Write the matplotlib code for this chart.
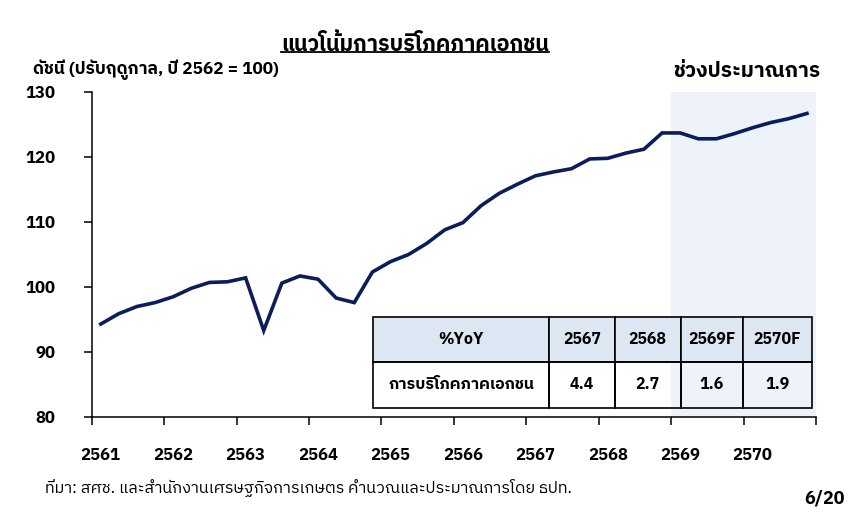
import matplotlib
matplotlib.use("Agg")
import matplotlib.pyplot as plt
from matplotlib.lines import Line2D
from matplotlib.transforms import ScaledTranslation

plt.rcParams["font.family"] = ["IBM Plex Sans Thai", "DejaVu Sans"]

# quarterly index, 2561Q1 .. 2570Q4 (2569-2570 forecast)
years = list(range(2561, 2571))
index_values = [
    94.3, 95.9, 97.0, 97.6,
    98.5, 99.8, 100.7, 100.8,
    101.4, 93.3, 100.6, 101.7,
    101.2, 98.3, 97.6, 102.3,
    103.9, 105.0, 106.7, 108.8,
    109.9, 112.5, 114.4, 115.8,
    117.1, 117.7, 118.2, 119.7,
    119.8, 120.6, 121.2, 123.7,
    123.7, 122.8, 122.8, 123.6,
    124.5, 125.3, 125.9, 126.7,
]
quarter_x = [y + (q + 0.5) / 4 for y in years for q in range(4)]
forecast_start = 2569

table_header = ["%YoY", "2567", "2568", "2569F", "2570F"]
table_row = ["การบริโภคภาคเอกชน", "4.4", "2.7", "1.6", "1.9"]

fig = plt.figure(figsize=(8.5, 5.18), dpi=100)
ax = fig.add_axes([0.1079, 0.195, 0.8521, 0.6274])

ax.axvspan(forecast_start, years[-1] + 1, color="#eef2fa", zorder=0, lw=0)
ax.plot(quarter_x, index_values, color="#0b1d5a", lw=2.6, zorder=3,
        solid_joinstyle="miter")

ax.set_xlim(years[0], years[-1] + 1)
ax.set_ylim(80, 130)
ax.set_yticks(range(80, 131, 10))
ax.set_xticks(years + [years[-1] + 1])
ax.set_xticklabels([str(y) for y in years] + [""])
for s in ["top", "right"]:
    ax.spines[s].set_visible(False)
for s in ["left", "bottom"]:
    ax.spines[s].set_linewidth(1.1)
ax.tick_params(axis="both", direction="out", length=6, width=1.1,
               labelsize=12)
ax.tick_params(axis="y", pad=20)
ax.tick_params(axis="x", pad=16)
for lab in ax.get_xticklabels() + ax.get_yticklabels():
    lab.set_fontweight("bold")

# year labels sit a little right of their tick
shift = ScaledTranslation(9 / 100, 0, fig.dpi_scale_trans)
for lab in ax.get_xticklabels():
    lab.set_transform(lab.get_transform() + shift)

# YoY table
widths = [176, 65.7, 65.7, 62.6, 68.4]
tot = sum(widths)
tbl = ax.table(cellText=[table_header, table_row],
               colWidths=[w / tot for w in widths],
               cellLoc="center",
               bbox=[0.3888, 0.0292, 0.6052, 0.2776], zorder=5)
tbl.auto_set_font_size(False)
for (r, c), cell in tbl.get_celld().items():
    cell.set_linewidth(1.2)
    cell.set_edgecolor("black")
    cell.set_facecolor("#dde7f3" if r == 0 else "none")
    cell.get_text().set_fontsize(11.5)
    cell.get_text().set_fontweight("bold")

title = fig.text(0.488, 0.915, "แนวโน้มการบริโภคภาคเอกชน", ha="center",
                 va="center", fontsize=15.5, fontweight="bold")
fig.text(0.039, 0.865, "ดัชนี (ปรับฤดูกาล, ปี 2562 = 100)", ha="left",
         va="center", fontsize=12.4, fontweight="bold")
fig.text(0.879, 0.862, "ช่วงประมาณการ", ha="center", va="center",
         fontsize=15, fontweight="bold")
fig.text(0.053, 0.058,
         "ที่มา: สศช. และสำนักงานเศรษฐกิจการเกษตร คำนวณและประมาณการโดย ธปท.",
         ha="left", va="center", fontsize=11.7)
fig.text(0.994, 0.038, "6/20", ha="right", va="center", fontsize=13,
         fontweight="bold")

# underline the title
fig.canvas.draw()
bb = title.get_window_extent()
fig.add_artist(Line2D([bb.x0 / 850, bb.x1 / 850],
                      [(518 - 52) / 518] * 2, color="black", lw=1.3,
                      transform=fig.transFigure))

fig.savefig("out.png", dpi=100)
